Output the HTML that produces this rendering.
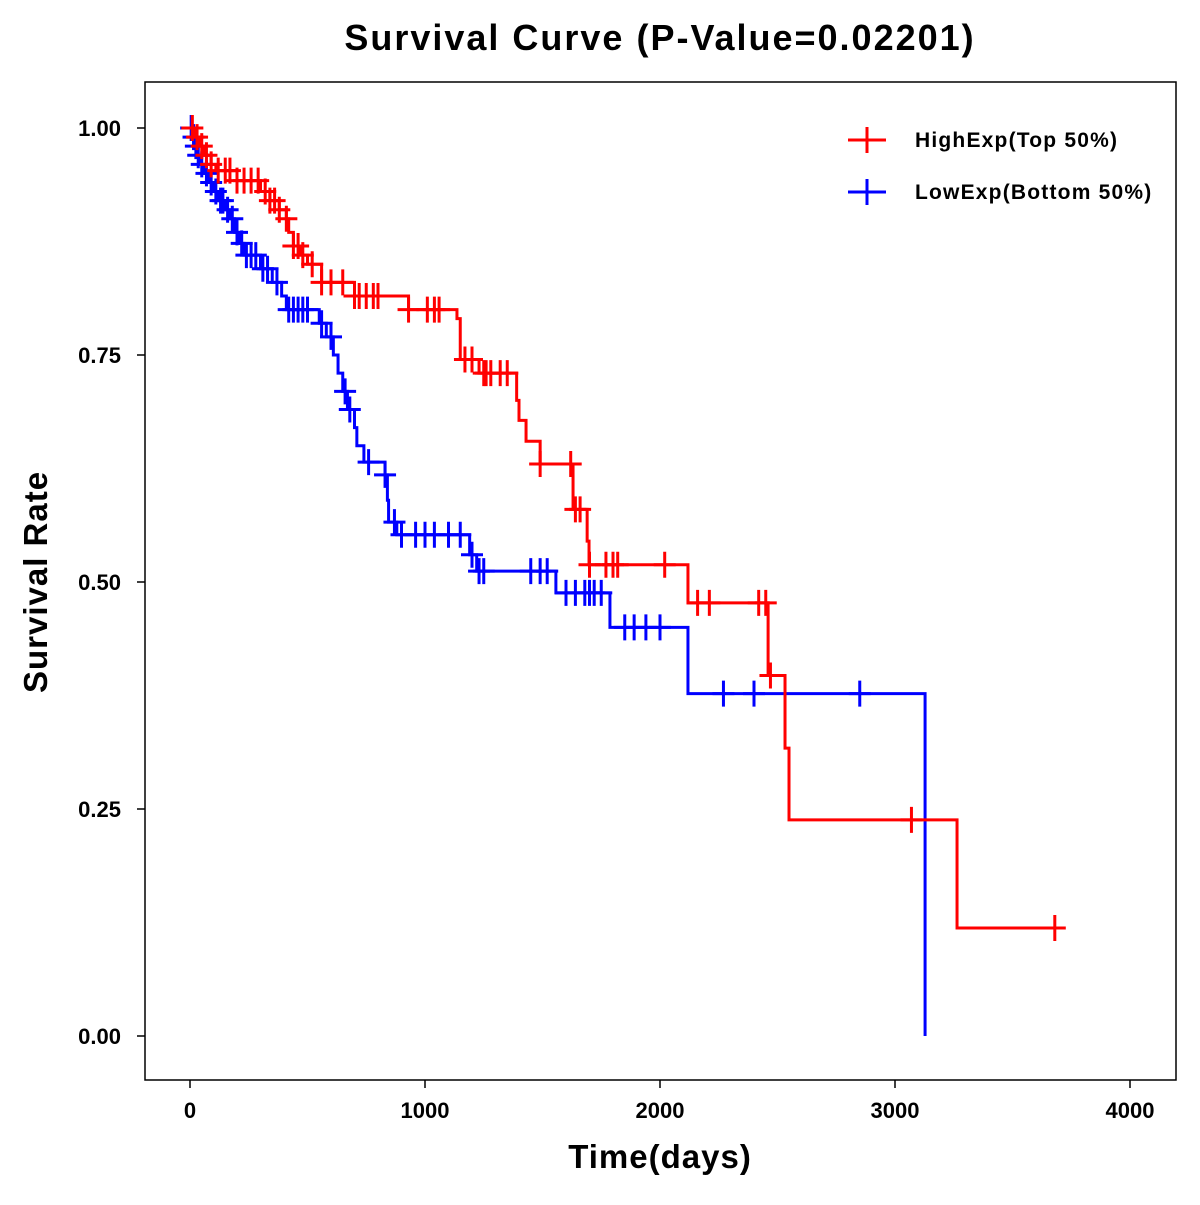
<!DOCTYPE html>
<html><head><meta charset="utf-8"><style>
body{margin:0;background:#fff}
svg{font-family:"Liberation Sans",Arial,sans-serif;font-weight:bold}
</style></head><body>
<svg id="chart" width="1200" height="1200">
<rect width="1200" height="1200" fill="#fff"/>
<text x="660" y="50" text-anchor="middle" font-size="36" letter-spacing="2">Survival Curve (P-Value=0.02201)</text>
<rect x="145" y="82" width="1031" height="998" fill="none" stroke="#000" stroke-width="1.5"/>
<text x="660" y="1168" text-anchor="middle" font-size="33" letter-spacing="1">Time(days)</text>
<text transform="translate(47,582) rotate(-90)" text-anchor="middle" font-size="33" letter-spacing="1">Survival Rate</text>
<g id="axes"></g>
<g id="series"></g>
<g>
<line x1="848" y1="140" x2="886" y2="140" stroke="#f00" stroke-width="3"/><line x1="867" y1="127" x2="867" y2="153" stroke="#f00" stroke-width="3"/>
<text x="915" y="147" font-size="21" letter-spacing="1.2">HighExp(Top 50%)</text>
<line x1="848" y1="192" x2="886" y2="192" stroke="#00f" stroke-width="3"/><line x1="867" y1="179" x2="867" y2="205" stroke="#00f" stroke-width="3"/>
<text x="915" y="199" font-size="21" letter-spacing="1.2">LowExp(Bottom 50%)</text>
</g>
</svg>
<script>
const xTicks=[0,1000,2000,3000,4000];
const yTicks=[0,0.25,0.5,0.75,1.0];
const yTickLabels=["0.00","0.25","0.50","0.75","1.00"];
const redStepT=[20,40,60,90,110,200,300,340,380,410,420,440,470,500,560,700,930,1136,1150,1230,1390,1400,1430,1490,1630,1690,1698,2119,2460,2532,2549,3264];
const redStepS=[0.99,0.98,0.97,0.96,0.953,0.942,0.93,0.92,0.91,0.90,0.885,0.87,0.86,0.85,0.83,0.815,0.80,0.79,0.745,0.73,0.70,0.678,0.655,0.63,0.58,0.545,0.519,0.477,0.397,0.317,0.238,0.119];
const redCensor=[10,30,50,70,90,120,150,170,200,230,260,290,320,340,360,380,410,440,460,480,520,560,600,650,700,720,750,780,800,930,1010,1040,1060,1170,1200,1250,1260,1280,1320,1350,1490,1620,1640,1660,1700,1770,1800,1820,2020,2160,2210,2420,2450,2470,3070,3680];
const blueStepT=[10,20,30,40,60,80,100,120,150,170,190,210,230,300,350,390,410,550,580,610,630,650,670,700,710,740,830,840,845,880,1190,1220,1557,1787,2119,3128];
const blueStepS=[0.99,0.98,0.97,0.96,0.95,0.94,0.93,0.92,0.91,0.90,0.885,0.873,0.86,0.845,0.83,0.815,0.80,0.785,0.77,0.75,0.73,0.71,0.69,0.67,0.65,0.632,0.618,0.59,0.566,0.552,0.53,0.512,0.488,0.45,0.377,0.0];
const blueCensor=[5,15,25,35,50,70,90,110,130,140,160,180,200,220,240,260,280,310,330,370,420,440,460,480,500,560,600,660,680,760,830,870,900,960,1000,1040,1100,1150,1200,1230,1250,1450,1490,1520,1600,1640,1680,1700,1720,1750,1850,1890,1940,2000,2270,2400,2850];
const NS="http://www.w3.org/2000/svg";
const xs=t=>190+t*0.235;
const ys=s=>1036-s*908;
function mk(tag,attrs,parent){const e=document.createElementNS(NS,tag);for(const k in attrs)e.setAttribute(k,attrs[k]);parent.appendChild(e);return e;}
const axes=document.getElementById('axes');
xTicks.forEach(v=>{
  const l=mk('line',{x1:xs(v),x2:xs(v),y1:1080,y2:1088,stroke:'#000','stroke-width':1.5},axes);
  
  
  const t=mk('text',{x:xs(v),y:1118,'text-anchor':'middle','font-size':22},axes);t.textContent=v;
  
  
});
yTicks.forEach((v,i)=>{
  const l=mk('line',{x1:137,x2:145,y1:ys(v),y2:ys(v),stroke:'#000','stroke-width':1.5},axes);
  
  
  const t=mk('text',{x:121,y:ys(v)+8,'text-anchor':'end','font-size':22},axes);t.textContent=yTickLabels[i];
  
  
});
const series=document.getElementById('series');
function survAt(T,S,t){let s=1;for(let i=0;i<T.length;i++){if(T[i]<=t)s=S[i];}return s;}
function draw(T,S,C,color,name){
  let d='M'+xs(0)+','+ys(1);let cur=1;
  for(let i=0;i<T.length;i++){d+=' H'+xs(T[i])+' V'+ys(S[i]);cur=S[i];}
  const lastC=Math.max(...C);
  if(lastC>T[T.length-1]&&cur>0)d+=' H'+xs(lastC);
  const p=mk('path',{d:d,fill:'none',stroke:color,'stroke-width':3},series);
  
  
  C.forEach(t=>{
    const x=xs(t),y=ys(survAt(T,S,t));
    const g=mk('path',{d:`M${x-11},${y}H${x+11}M${x},${y-13}V${y+13}`,stroke:color,'stroke-width':3,fill:'none'},series);
    
    
  });
}
draw(blueStepT,blueStepS,blueCensor,'#00f','low-exp');
draw(redStepT,redStepS,redCensor,'#f00','high-exp');
</script>
</body></html>
